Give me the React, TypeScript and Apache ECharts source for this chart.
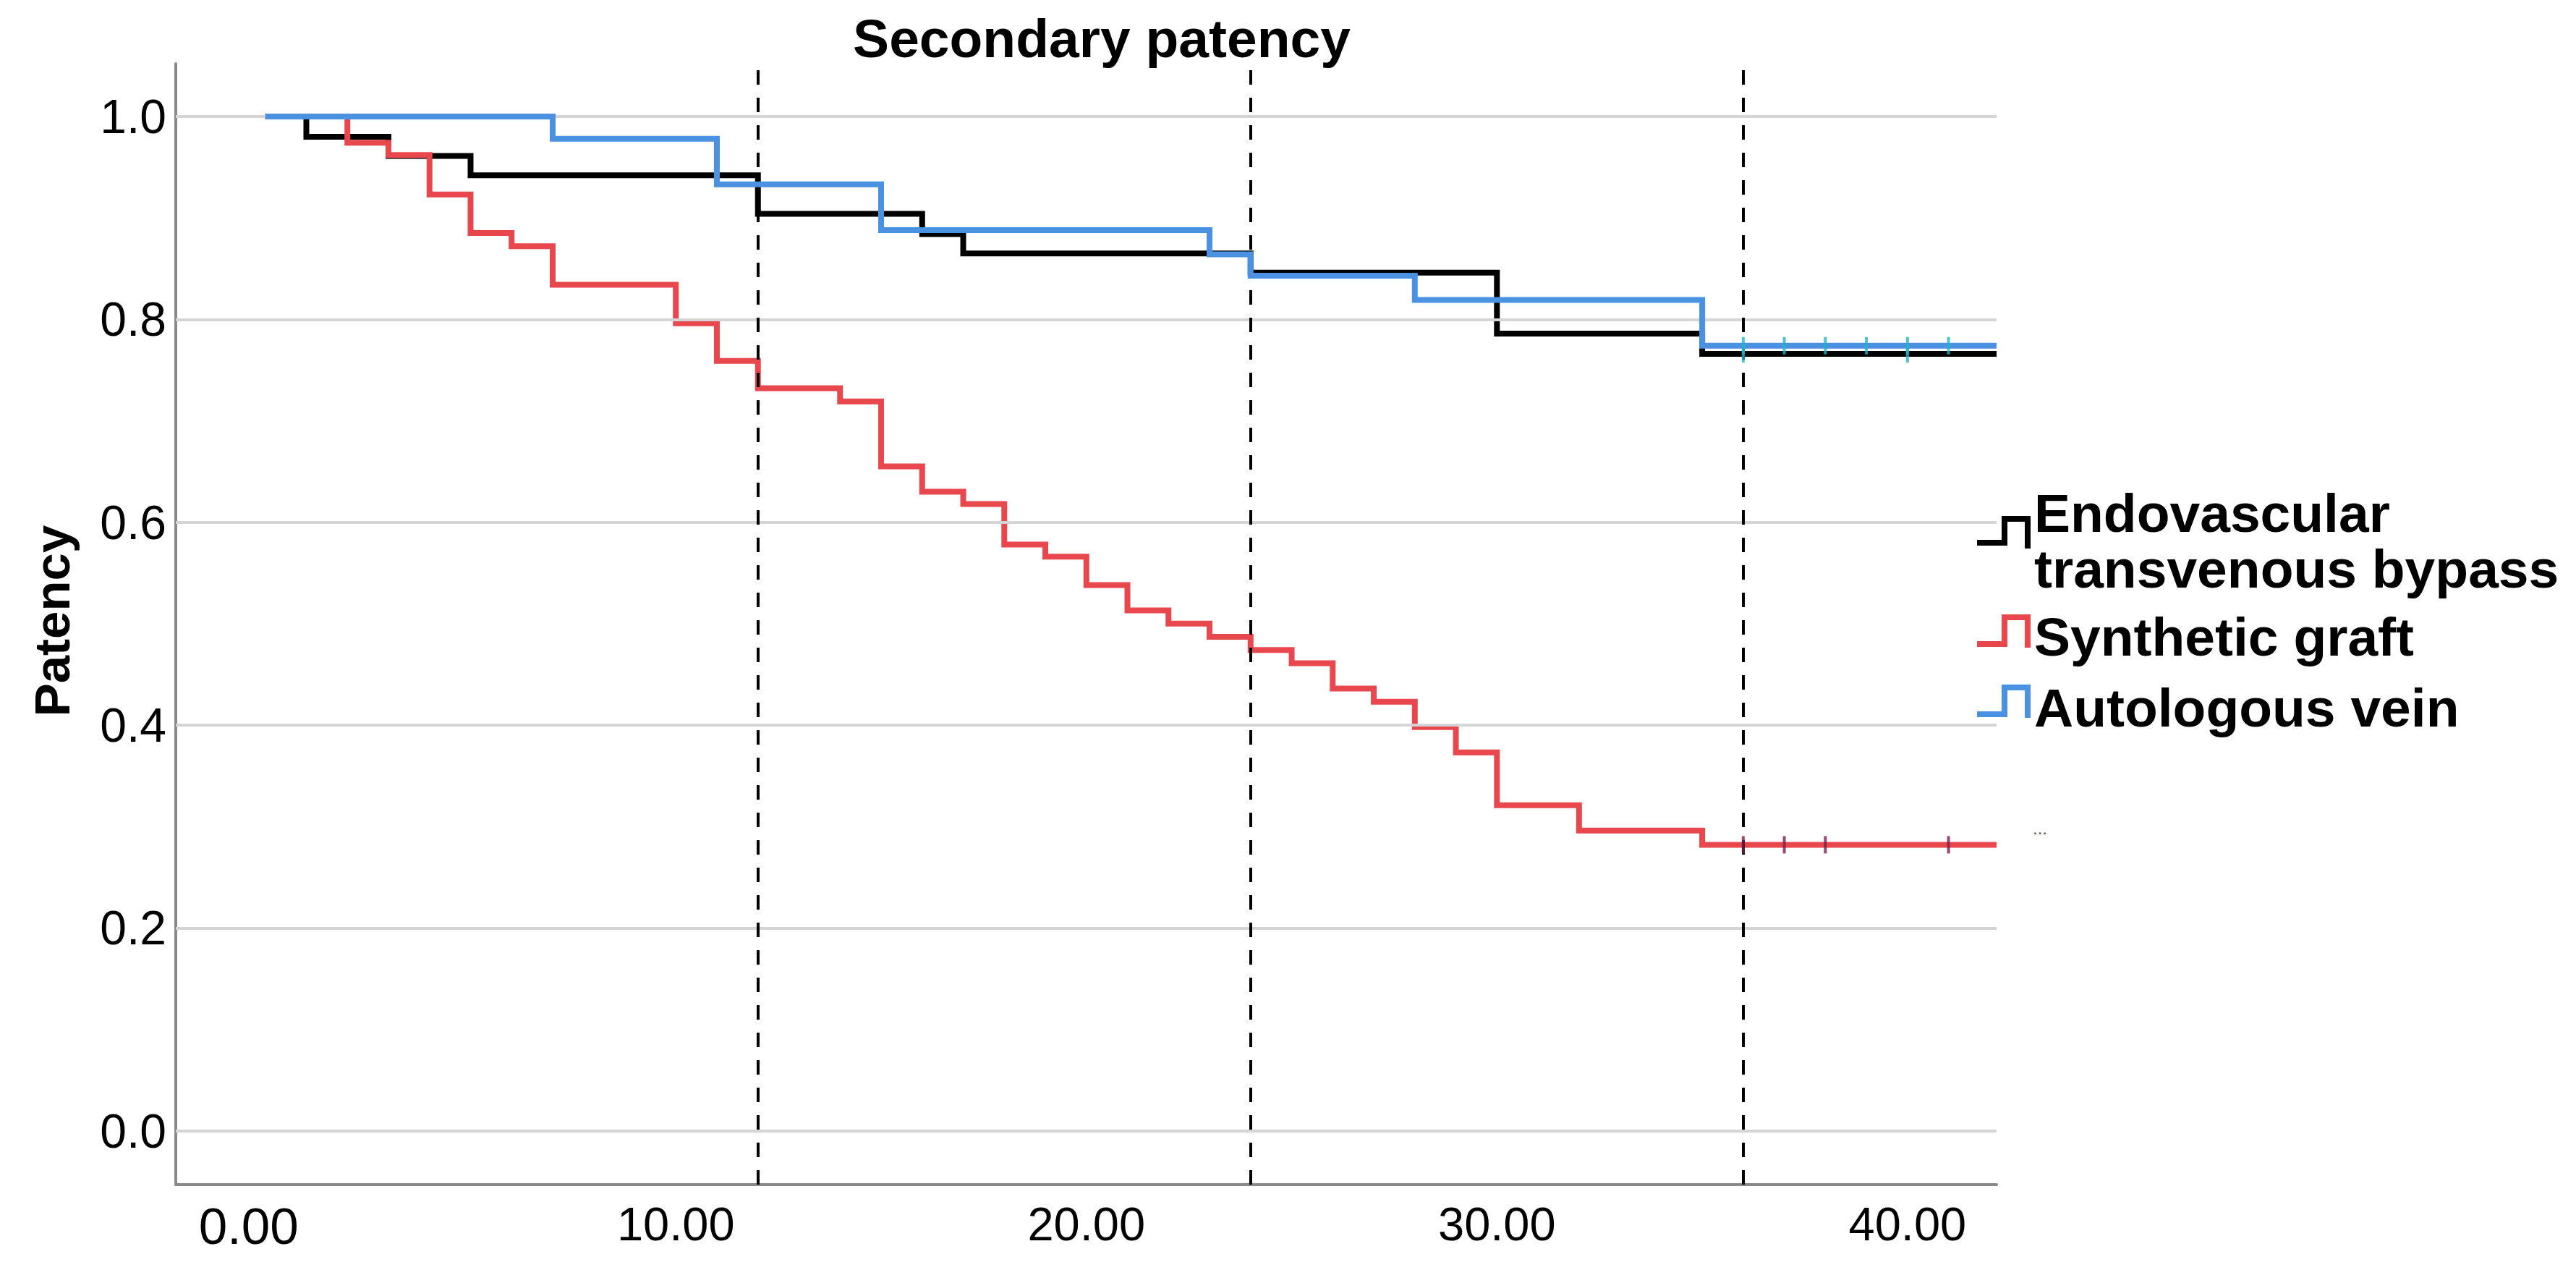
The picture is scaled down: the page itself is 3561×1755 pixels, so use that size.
import React, { useEffect, useRef } from 'react';
import * as echarts from 'echarts';

// ---- data ----
const endoTimes = [0, 1, 3, 5, 12, 16, 17, 24, 30, 35, 42.17];
const endoSurv = [1, 0.98, 0.961, 0.942, 0.904, 0.884, 0.865, 0.846, 0.786, 0.766, 0.766];

const synthTimes = [0, 2, 3, 4, 5, 6, 7, 10, 11, 12, 14, 15, 16, 17, 18, 19, 20, 21, 22, 23, 24, 25, 26, 27, 28, 29, 30, 32, 35, 42.17];
const synthSurv = [1, 0.974, 0.962, 0.923, 0.885, 0.872, 0.834, 0.796, 0.759, 0.732, 0.719, 0.655, 0.63, 0.618, 0.578, 0.566, 0.538, 0.513, 0.5, 0.487, 0.474, 0.461, 0.436, 0.423, 0.398, 0.373, 0.321, 0.296, 0.282, 0.282];

const veinTimes = [0, 7, 11, 15, 23, 24, 28, 35, 42.17];
const veinSurv = [1, 0.978, 0.933, 0.888, 0.864, 0.843, 0.819, 0.774, 0.774];

const endoCensor = [36, 40];
const synthCensor = [36, 37, 38, 41];
const veinCensor = [36, 37, 38, 39, 40, 41];

const yTicks = [0, 0.2, 0.4, 0.6, 0.8, 1.0];
const xTicks = [0, 10, 20, 30, 40];
const landmarks = [12, 24, 36];

const titleText = 'Secondary patency';
const yName = 'Patency';
const legendLines = [
  ['Endovascular', 'transvenous bypass'],
  ['Synthetic graft'],
  ['Autologous vein'],
];
const seriesNames = ['Endovascular transvenous bypass', 'Synthetic graft', 'Autologous vein'];

const COLORS = ['#000000', '#e8474d', '#4b91e2'];
const CENSOR_COLORS = ['#22b3c8', '#7a1e4e', '#22b3c8'];
const FONT = '"Liberation Sans", Arial, Helvetica, sans-serif';

function stepValue(times: number[], surv: number[], t: number) {
  let v = surv[0];
  for (let i = 0; i < times.length; i++) {
    if (times[i] <= t) v = surv[i];
  }
  return v;
}

export default function App() {
  const ref = useRef<HTMLDivElement>(null);

  useEffect(() => {
    if (!ref.current) return;
    const chart = echarts.init(ref.current, undefined, { renderer: 'svg' });

    const curves = [
      { t: endoTimes, s: endoSurv, c: endoCensor },
      { t: synthTimes, s: synthSurv, c: synthCensor },
      { t: veinTimes, s: veinSurv, c: veinCensor },
    ];

    const lineSeries = curves.map((cv, i) => ({
      name: seriesNames[i],
      type: 'line',
      step: 'end',
      showSymbol: false,
      z: 3 + i,
      lineStyle: { color: COLORS[i], width: 8, join: 'miter' },
      itemStyle: { color: COLORS[i] },
      data: cv.t.map((t, k) => [t, cv.s[k]]),
    }));

    const censorSeries = curves.map((cv, i) => ({
      name: seriesNames[i] + ' censored',
      type: 'scatter',
      symbol: 'rect',
      symbolSize: [4, 24],
      z: 7,
      itemStyle: { color: CENSOR_COLORS[i] },
      data: cv.c.map((t) => [t, stepValue(cv.t, cv.s, t)]),
    }));

    const gridSeries = {
      type: 'line',
      data: [],
      z: 1,
      markLine: {
        silent: true,
        symbol: 'none',
        label: { show: false },
        lineStyle: { color: '#d5d5d5', width: 4, type: 'solid' },
        data: yTicks.map((v) => ({ yAxis: v })),
      },
    };

    const landmarkSeries = {
      type: 'line',
      data: [],
      z: 10,
      markLine: {
        silent: true,
        symbol: 'none',
        label: { show: false },
        lineStyle: { color: '#000000', width: 4, type: [20, 18] },
        data: landmarks.map((v) => ({ xAxis: v })),
      },
    };

    const legendIcons = [
      [[2733, 750], [2771, 750], [2771, 717], [2803, 717], [2803, 758]],
      [[2733, 890], [2771, 890], [2771, 853], [2803, 853], [2803, 895]],
      [[2733, 987], [2771, 987], [2771, 950], [2803, 950], [2803, 992]],
    ];
    const legendTextY = [[709, 786], [880], [978]];

    const graphic: any[] = [
      {
        type: 'text',
        x: 1523,
        y: 53,
        style: {
          text: titleText,
          font: `bold 75px ${FONT}`,
          fill: '#000',
          textAlign: 'center',
          textVerticalAlign: 'middle',
        },
      },
      {
        type: 'text',
        x: 72,
        y: 858,
        rotation: Math.PI / 2,
        style: {
          text: yName,
          font: `bold 69px ${FONT}`,
          fill: '#000',
          textAlign: 'center',
          textVerticalAlign: 'middle',
        },
      },
      {
        type: 'text',
        x: 2820,
        y: 1144,
        style: {
          text: '...',
          font: `24px ${FONT}`,
          fill: '#555',
          textAlign: 'center',
          textVerticalAlign: 'middle',
        },
      },
    ];

    legendIcons.forEach((pts, i) => {
      graphic.push({
        type: 'polyline',
        shape: { points: pts },
        style: { stroke: COLORS[i], lineWidth: 8, fill: null, lineJoin: 'miter' },
      });
      legendLines[i].forEach((ln, k) => {
        graphic.push({
          type: 'text',
          x: 2812,
          y: legendTextY[i][k],
          style: {
            text: ln,
            font: `bold 75px ${FONT}`,
            fill: '#000',
            textAlign: 'left',
            textVerticalAlign: 'middle',
          },
        });
      });
    });

    chart.setOption({
      animation: false,
      backgroundColor: '#ffffff',
      grid: { left: 243, right: 801, top: 88, bottom: 118, containLabel: false },
      xAxis: {
        type: 'value',
        min: -2.18,
        max: 42.17,
        axisLine: { show: true, onZero: false, lineStyle: { color: '#8a8a8a', width: 4 } },
        axisTick: { show: false },
        splitLine: { show: false },
        axisLabel: {
          customValues: xTicks,
          margin: 22,
          fontSize: 65,
          fontFamily: FONT,
          color: '#000',
          formatter: (v: number) => (v === 0 ? '{z|0.00}' : v.toFixed(2)),
          rich: {
            z: { fontSize: 71, fontFamily: FONT, color: '#000', padding: [0, 46, 0, 0] },
          },
        },
      },
      yAxis: {
        type: 'value',
        min: -0.053,
        max: 1.052,
        axisLine: { show: true, onZero: false, lineStyle: { color: '#8a8a8a', width: 4 } },
        axisTick: { show: false },
        splitLine: { show: false },
        axisLabel: {
          customValues: yTicks,
          margin: 13,
          fontSize: 66,
          fontFamily: FONT,
          color: '#000',
          formatter: (v: number) => v.toFixed(1),
        },
      },
      series: [gridSeries, ...lineSeries, ...censorSeries, landmarkSeries],
      graphic,
    });

    return () => chart.dispose();
  }, []);

  return (
    <div
      ref={ref}
      style={{ position: 'absolute', left: 0, top: 0, width: 3561, height: 1755, background: '#fff' }}
    />
  );
}
